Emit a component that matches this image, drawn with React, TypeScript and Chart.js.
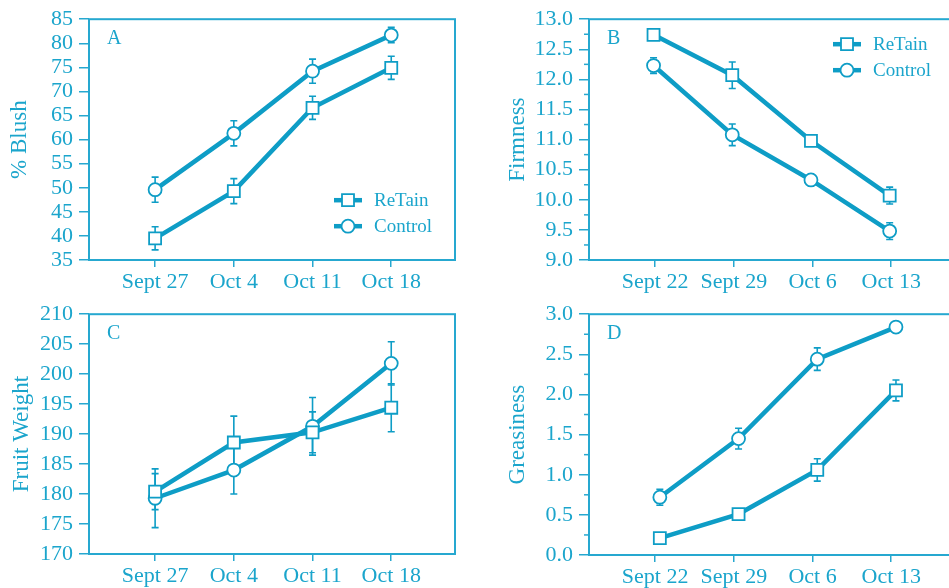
import React, { useEffect, useRef } from "react";
import { Chart, registerables } from "chart.js";

Chart.register(...registerables);

// ---------- data ----------
const datesAC = ["Sept 27", "Oct 4", "Oct 11", "Oct 18"];
const datesBD = ["Sept 22", "Sept 29", "Oct 6", "Oct 13"];

const blushRetain = [39.5, 49.3, 66.6, 74.9];
const blushRetainErr = [2.4, 2.6, 2.4, 2.4];
const blushControl = [49.6, 61.3, 74.2, 81.7];
const blushControlErr = [2.6, 2.6, 2.5, 1.6];

const firmRetain = [12.74, 12.07, 10.98, 10.07];
const firmRetainErr = [0.05, 0.22, 0.07, 0.14];
const firmControl = [12.23, 11.08, 10.33, 9.48];
const firmControlErr = [0.13, 0.18, 0.08, 0.14];

const weightRetain = [180.4, 188.6, 190.3, 194.4];
const weightRetainErr = [3.0, 4.4, 3.4, 4.0];
const weightControl = [179.3, 184.0, 191.3, 201.8];
const weightControlErr = [4.9, 4.0, 4.8, 3.6];

const greaseRetain = [0.21, 0.51, 1.06, 2.05];
const greaseRetainErr = [0.02, 0.03, 0.14, 0.13];
const greaseControl = [0.72, 1.45, 2.44, 2.84];
const greaseControlErr = [0.1, 0.13, 0.14, 0.02];

const seriesNames = ["ReTain", "Control"];

// ---------- style ----------
const TEXT = "#1ba5cc";
const LINE = "#0e9dc6";
const FRAME = "#26a8d0";
const FONT = "'Liberation Serif', 'Times New Roman', serif";

type PanelCfg = {
  letter: string;
  categories: string[];
  retain: number[];
  retainErr: number[];
  control: number[];
  controlErr: number[];
  yMin: number;
  yMax: number;
  yStep: number;
  minorStep?: number;
  decimals: number;
  yTitle: string;
  titlePad: number;
  legend?: { x: number; y: number };
  xShift: number;
  box: { left: number; top: number; width: number; height: number };
  area: { left: number; top: number; right: number; bottom: number };
};

const panels: PanelCfg[] = [
  {
    letter: "A", categories: datesAC,
    retain: blushRetain, retainErr: blushRetainErr,
    control: blushControl, controlErr: blushControlErr,
    yMin: 35, yMax: 85, yStep: 5, decimals: 0,
    yTitle: "% Blush", titlePad: 8,
    legend: { x: 245, y: 181 }, xShift: 0,
    box: { left: 0, top: 0, width: 475, height: 295 },
    area: { left: 89, top: 17, right: 455, bottom: 260 },
  },
  {
    letter: "B", categories: datesBD,
    retain: firmRetain, retainErr: firmRetainErr,
    control: firmControl, controlErr: firmControlErr,
    yMin: 9, yMax: 13, yStep: 0.5, minorStep: 0.25, decimals: 1,
    yTitle: "Firmness", titlePad: 31,
    legend: { x: 244, y: 25 }, xShift: -0.02,
    box: { left: 475, top: 0, width: 480, height: 295 },
    area: { left: 114, top: 17, right: 480, bottom: 260 },
  },
  {
    letter: "C", categories: datesAC,
    retain: weightRetain, retainErr: weightRetainErr,
    control: weightControl, controlErr: weightControlErr,
    yMin: 170, yMax: 210, yStep: 5, decimals: 0,
    yTitle: "Fruit Weight", titlePad: 10, xShift: 0,
    box: { left: 0, top: 295, width: 475, height: 293 },
    area: { left: 89, top: 17, right: 455, bottom: 259 },
  },
  {
    letter: "D", categories: datesBD,
    retain: greaseRetain, retainErr: greaseRetainErr,
    control: greaseControl, controlErr: greaseControlErr,
    yMin: 0, yMax: 3, yStep: 0.5, minorStep: 0.25, decimals: 1,
    yTitle: "Greasiness", titlePad: 31, xShift: 0.06,
    box: { left: 475, top: 295, width: 480, height: 293 },
    area: { left: 114, top: 17, right: 480, bottom: 260 },
  },
];

const X_MIN = -0.84;
const X_MAX = 3.81;

function drawMarker(ctx: CanvasRenderingContext2D, style: string, x: number, y: number) {
  ctx.save();
  ctx.fillStyle = "#ffffff";
  ctx.strokeStyle = LINE;
  ctx.lineWidth = 1.8;
  ctx.beginPath();
  if (style === "rect") {
    ctx.rect(x - 6, y - 6, 12, 12);
  } else {
    ctx.arc(x, y, 6.5, 0, Math.PI * 2);
  }
  ctx.fill();
  ctx.stroke();
  ctx.restore();
}

const panelPlugin = {
  id: "panelDecor",
  beforeDatasetsDraw(chart: any) {
    const cfg: PanelCfg = chart.options.plugins.panelDecor.cfg;
    const { ctx, chartArea } = chart;
    const { left, top, right, bottom } = chartArea;
    ctx.save();
    // frame
    ctx.strokeStyle = FRAME;
    ctx.lineWidth = 2;
    ctx.strokeRect(left, top, right - left, bottom - top);
    // minor ticks
    const yScale = chart.scales.y;
    if (cfg.minorStep) {
      ctx.lineWidth = 1.5;
      const n = Math.round((cfg.yMax - cfg.yMin) / cfg.minorStep);
      for (let i = 0; i <= n; i++) {
        const v = cfg.yMin + i * cfg.minorStep;
        const r = (v - cfg.yMin) / cfg.yStep;
        if (Math.abs(r - Math.round(r)) < 1e-6) continue;
        const py = yScale.getPixelForValue(v);
        ctx.beginPath();
        ctx.moveTo(left - 5, py);
        ctx.lineTo(left, py);
        ctx.stroke();
      }
    }
    // error bars
    ctx.strokeStyle = LINE;
    ctx.lineWidth = 1.6;
    chart.data.datasets.forEach((ds: any, i: number) => {
      const meta = chart.getDatasetMeta(i);
      meta.data.forEach((pt: any, j: number) => {
        const v = ds.data[j].y;
        const e = ds.errors[j];
        const y1 = yScale.getPixelForValue(v + e);
        const y2 = yScale.getPixelForValue(v - e);
        const x = pt.x;
        ctx.beginPath();
        ctx.moveTo(x, y1);
        ctx.lineTo(x, y2);
        ctx.moveTo(x - 3.5, y1);
        ctx.lineTo(x + 3.5, y1);
        ctx.moveTo(x - 3.5, y2);
        ctx.lineTo(x + 3.5, y2);
        ctx.stroke();
      });
    });
    // panel letter
    ctx.fillStyle = TEXT;
    ctx.font = `20px ${FONT}`;
    ctx.textAlign = "left";
    ctx.textBaseline = "alphabetic";
    ctx.fillText(cfg.letter, left + 18, top + 25);
    ctx.restore();
  },
  afterDraw(chart: any) {
    const cfg: PanelCfg = chart.options.plugins.panelDecor.cfg;
    if (!cfg.legend) return;
    const { ctx, chartArea } = chart;
    const styles = ["rect", "circle"];
    ctx.save();
    seriesNames.forEach((name, i) => {
      const x = chartArea.left + cfg.legend!.x;
      const y = chartArea.top + cfg.legend!.y + i * 26;
      ctx.strokeStyle = LINE;
      ctx.lineWidth = 4.5;
      ctx.beginPath();
      ctx.moveTo(x, y);
      ctx.lineTo(x + 28, y);
      ctx.stroke();
      drawMarker(ctx, styles[i], x + 14, y);
      ctx.fillStyle = TEXT;
      ctx.font = `19px ${FONT}`;
      ctx.textAlign = "left";
      ctx.textBaseline = "middle";
      ctx.fillText(name, x + 40, y + 1);
    });
    ctx.restore();
  },
};

function Panel({ cfg }: { cfg: PanelCfg }) {
  const ref = useRef<HTMLCanvasElement>(null);
  useEffect(() => {
    if (!ref.current) return;
    const tickFont = { family: FONT, size: 22 };
    const mk = (vals: number[]) => vals.map((v, i) => ({ x: i, y: v }));
    const chart = new Chart(ref.current, {
      type: "line",
      data: {
        datasets: [
          {
            label: seriesNames[0],
            data: mk(cfg.retain),
            errors: cfg.retainErr,
            xAxisID: "xd",
            yAxisID: "y",
            borderColor: LINE,
            borderWidth: 4.5,
            pointStyle: "rect",
            pointRadius: 8.5,
            pointBackgroundColor: "#ffffff",
            pointBorderColor: LINE,
            pointBorderWidth: 1.8,
            tension: 0,
          } as any,
          {
            label: seriesNames[1],
            data: mk(cfg.control),
            errors: cfg.controlErr,
            xAxisID: "xd",
            yAxisID: "y",
            borderColor: LINE,
            borderWidth: 4.5,
            pointStyle: "circle",
            pointRadius: 6.5,
            pointBackgroundColor: "#ffffff",
            pointBorderColor: LINE,
            pointBorderWidth: 1.8,
            tension: 0,
          } as any,
        ],
      },
      options: {
        responsive: false,
        animation: false,
        devicePixelRatio: 1,
        layout: {
          autoPadding: false,
          padding: {
            left: 0,
            top: cfg.area.top,
            right: cfg.box.width - cfg.area.right,
            bottom: 0,
          },
        },
        plugins: {
          legend: { display: false },
          tooltip: { enabled: false },
          panelDecor: { cfg },
        } as any,
        scales: {
          x: {
            type: "linear",
            position: "bottom",
            min: X_MIN,
            max: X_MAX,
            afterBuildTicks: (s: any) => {
              s.ticks = cfg.categories.map((_, i) => ({ value: i }));
            },
            afterFit: (s: any) => {
              s.height = cfg.box.height - cfg.area.bottom;
            },
            grid: {
              drawOnChartArea: false,
              drawTicks: true,
              tickLength: 7,
              color: FRAME,
              lineWidth: 1.5,
            },
            border: { display: false },
            ticks: {
              font: tickFont,
              color: TEXT,
              padding: 2,
              maxRotation: 0,
              autoSkip: false,
              callback: (v: any) => cfg.categories[Math.round(Number(v))] ?? "",
            },
          },
          xd: {
            type: "linear",
            display: false,
            min: X_MIN - cfg.xShift,
            max: X_MAX - cfg.xShift,
          },
          y: {
            type: "linear",
            position: "left",
            min: cfg.yMin,
            max: cfg.yMax,
            afterFit: (s: any) => {
              s.width = cfg.area.left;
            },
            grid: {
              drawOnChartArea: false,
              drawTicks: true,
              tickLength: 10,
              color: FRAME,
              lineWidth: 1.5,
            },
            border: { display: false },
            ticks: {
              stepSize: cfg.yStep,
              autoSkip: false,
              maxTicksLimit: 100,
              font: tickFont,
              color: TEXT,
              padding: 6,
              callback: (v: any) => Number(v).toFixed(cfg.decimals),
            },
            title: {
              display: true,
              text: cfg.yTitle,
              color: TEXT,
              font: { family: FONT, size: 23, lineHeight: 1 },
              padding: { top: cfg.titlePad, bottom: 0 },
            },
          },
        },
      } as any,
      plugins: [panelPlugin],
    });
    return () => chart.destroy();
  }, [cfg]);

  return (
    <div
      style={{
        position: "absolute",
        left: cfg.box.left,
        top: cfg.box.top,
        width: cfg.box.width,
        height: cfg.box.height,
      }}
    >
      <canvas
        ref={ref}
        width={cfg.box.width}
        height={cfg.box.height}
        style={{ display: "block", width: cfg.box.width, height: cfg.box.height }}
      />
    </div>
  );
}

export default function App() {
  return (
    <div
      style={{
        position: "fixed",
        left: 0,
        top: 0,
        width: 949,
        height: 588,
        overflow: "hidden",
        background: "#ffffff",
      }}
    >
      {panels.map((p) => (
        <Panel key={p.letter} cfg={p} />
      ))}
    </div>
  );
}
